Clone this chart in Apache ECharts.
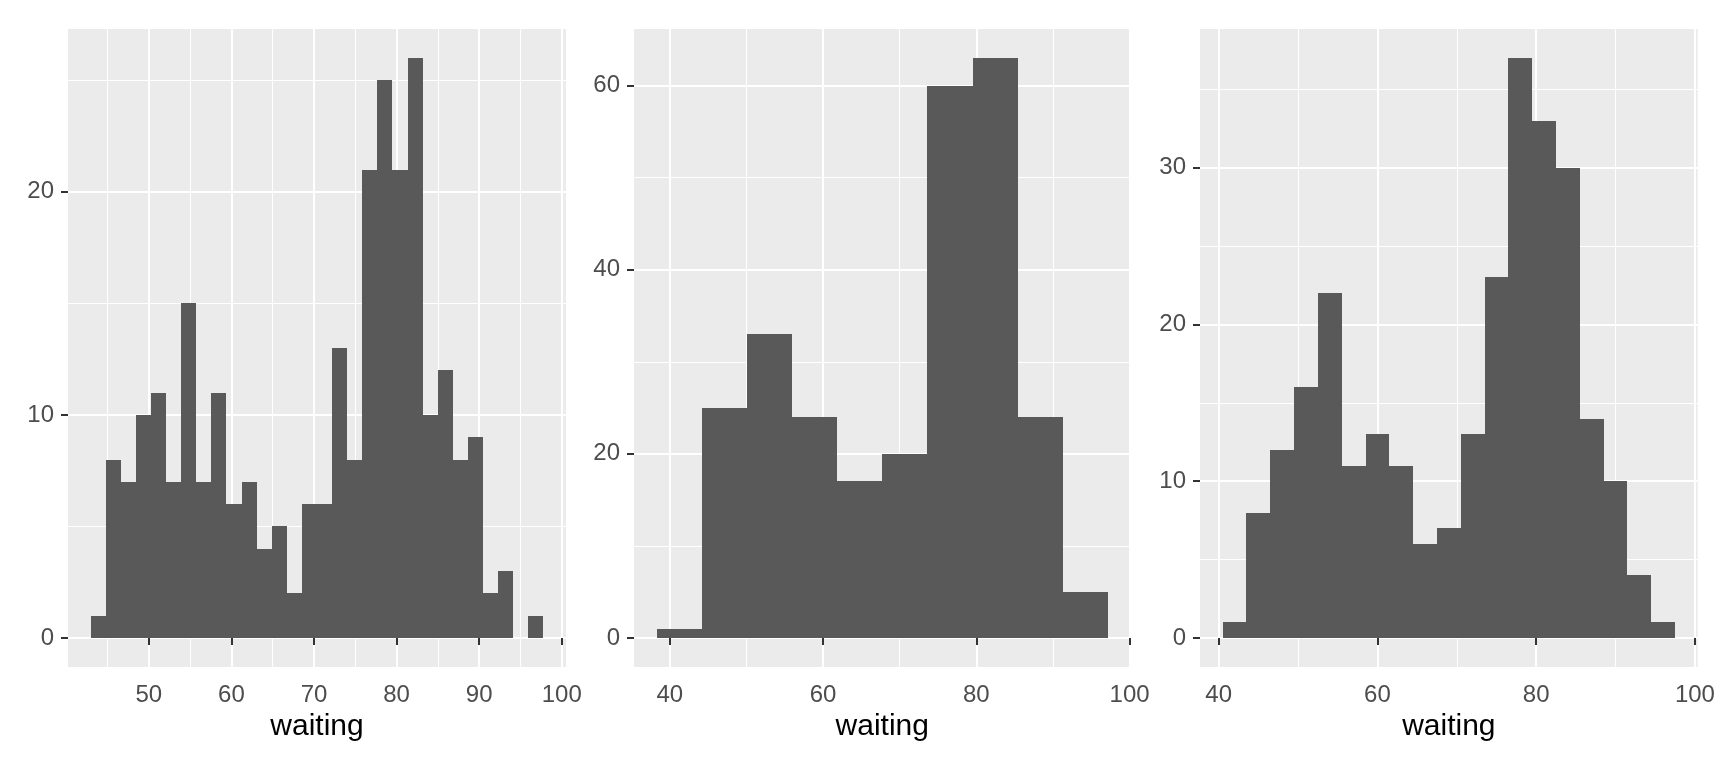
<!DOCTYPE html>
<html>
<head>
<meta charset="utf-8">
<script src="https://cdn.jsdelivr.net/npm/echarts@6/dist/echarts.min.js"></script>
<style>
html,body{margin:0;padding:0;background:#fff;}
#chart{width:1728px;height:768px;}
</style>
</head>
<body>
<div id="chart"></div>
<script>
// ---- Data (histograms of "waiting") ----
// Panel 1: 30 bins
const p1Edges = [42.948, 44.776, 46.603, 48.431, 50.259, 52.086, 53.914, 55.741, 57.569, 59.397,
                 61.224, 63.052, 64.879, 66.707, 68.534, 70.362, 72.190, 74.017, 75.845, 77.672,
                 79.500, 81.328, 83.155, 84.983, 86.810, 88.638, 90.466, 92.293, 94.121, 95.948, 97.776];
const p1Counts = [1, 8, 7, 10, 11, 7, 15, 7, 11, 6, 7, 4, 5, 2, 6, 6, 13, 8, 21, 25, 21, 26, 10, 12, 8, 9, 2, 3, 0, 1];

// Panel 2: 10 bins
const p2Edges = [38.278, 44.167, 50.056, 55.944, 61.833, 67.722, 73.611, 79.500, 85.389, 91.278, 97.167];
const p2Counts = [1, 25, 33, 24, 17, 20, 60, 63, 24, 5];

// Panel 3: binwidth 3
const p3Edges = [40.5, 43.5, 46.5, 49.5, 52.5, 55.5, 58.5, 61.5, 64.5, 67.5,
                 70.5, 73.5, 76.5, 79.5, 82.5, 85.5, 88.5, 91.5, 94.5, 97.5];
const p3Counts = [1, 8, 12, 16, 22, 11, 13, 11, 6, 7, 13, 23, 37, 33, 30, 14, 10, 4, 1];

// Tick labels / breaks
const p1XTicks = [50, 60, 70, 80, 90, 100];
const p1XMinor = [45, 55, 65, 75, 85, 95];
const p1YTicks = [0, 10, 20];
const p1YMinor = [5, 15, 25];

const p2XTicks = [40, 60, 80, 100];
const p2XMinor = [50, 70, 90];
const p2YTicks = [0, 20, 40, 60];
const p2YMinor = [10, 30, 50];

const p3XTicks = [40, 60, 80, 100];
const p3XMinor = [50, 70, 90];
const p3YTicks = [0, 10, 20, 30];
const p3YMinor = [5, 15, 25, 35];

const xTitle = 'waiting';

// ---- Build options ----
function expandRange(lo, hi) {
  const d = (hi - lo) * 0.05;
  return [lo - d, hi + d];
}

const panels = [
  {edges: p1Edges, counts: p1Counts, xt: p1XTicks, xm: p1XMinor, yt: p1YTicks, ym: p1YMinor,
   grid: {left: 68, top: 29, width: 498, height: 638}},
  {edges: p2Edges, counts: p2Counts, xt: p2XTicks, xm: p2XMinor, yt: p2YTicks, ym: p2YMinor,
   grid: {left: 634, top: 29, width: 496.5, height: 638}},
  {edges: p3Edges, counts: p3Counts, xt: p3XTicks, xm: p3XMinor, yt: p3YTicks, ym: p3YMinor,
   grid: {left: 1200, top: 29, width: 497.7, height: 638}}
];

const FONT = '"Liberation Sans", Arial, sans-serif';
const grids = [], xAxes = [], yAxes = [], series = [];

panels.forEach((p, i) => {
  grids.push(Object.assign({show: true, backgroundColor: '#EBEBEB', borderWidth: 0, containLabel: false}, p.grid));
  const xr = expandRange(p.edges[0], p.edges[p.edges.length - 1]);
  const yr = expandRange(0, Math.max.apply(null, p.counts));
  // major x
  xAxes.push({
    type: 'value', gridIndex: i, min: xr[0], max: xr[1], position: 'bottom',
    name: xTitle, nameLocation: 'middle', nameGap: 44,
    nameTextStyle: {fontFamily: FONT, fontSize: 30, color: '#000000'},
    axisLine: {show: false},
    axisTick: {show: true, length: 7, lineStyle: {color: '#333333', width: 2}, customValues: p.xt},
    axisLabel: {show: true, margin: 16, fontFamily: FONT, fontSize: 24, color: '#4D4D4D', customValues: p.xt,
                showMinLabel: true, showMaxLabel: true, hideOverlap: false},
    splitLine: {show: true, lineStyle: {color: '#FFFFFF', width: 2}},
    minorTick: {show: false}, minorSplitLine: {show: false}
  });
  // minor x
  xAxes.push({
    type: 'value', gridIndex: i, min: xr[0], max: xr[1], position: 'top',
    axisLine: {show: false},
    axisTick: {show: false, customValues: p.xm},
    axisLabel: {show: false, customValues: p.xm},
    splitLine: {show: true, lineStyle: {color: '#FFFFFF', width: 1}}
  });
  // major y
  yAxes.push({
    type: 'value', gridIndex: i, min: yr[0], max: yr[1], position: 'left',
    axisLine: {show: false},
    axisTick: {show: true, length: 7, lineStyle: {color: '#333333', width: 2}, customValues: p.yt},
    axisLabel: {show: true, margin: 14, fontFamily: FONT, fontSize: 24, color: '#4D4D4D', customValues: p.yt,
                showMinLabel: true, showMaxLabel: true, hideOverlap: false},
    splitLine: {show: true, lineStyle: {color: '#FFFFFF', width: 2}}
  });
  // minor y
  yAxes.push({
    type: 'value', gridIndex: i, min: yr[0], max: yr[1], position: 'right',
    axisLine: {show: false},
    axisTick: {show: false, customValues: p.ym},
    axisLabel: {show: false, customValues: p.ym},
    splitLine: {show: true, lineStyle: {color: '#FFFFFF', width: 1}}
  });

  const data = p.counts.map((c, k) => [p.edges[k], p.edges[k + 1], c]);
  series.push({
    type: 'custom',
    xAxisIndex: 2 * i, yAxisIndex: 2 * i,
    silent: true,
    animation: false,
    data: data,
    encode: {x: [0, 1], y: 2},
    renderItem: function (params, api) {
      const a = api.coord([api.value(0), 0]);
      const b = api.coord([api.value(1), api.value(2)]);
      const x0 = Math.round(a[0]), x1 = Math.round(b[0]);
      const y0 = Math.round(a[1]), y1 = Math.round(b[1]);
      return {
        type: 'rect',
        shape: {x: x0, y: y1, width: x1 - x0, height: y0 - y1},
        style: {fill: '#595959'}
      };
    }
  });
});

const chart = echarts.init(document.getElementById('chart'), null, {renderer: 'canvas'});
chart.setOption({
  animation: false,
  backgroundColor: '#FFFFFF',
  grid: grids,
  xAxis: xAxes,
  yAxis: yAxes,
  series: series
});
</script>
</body>
</html>
